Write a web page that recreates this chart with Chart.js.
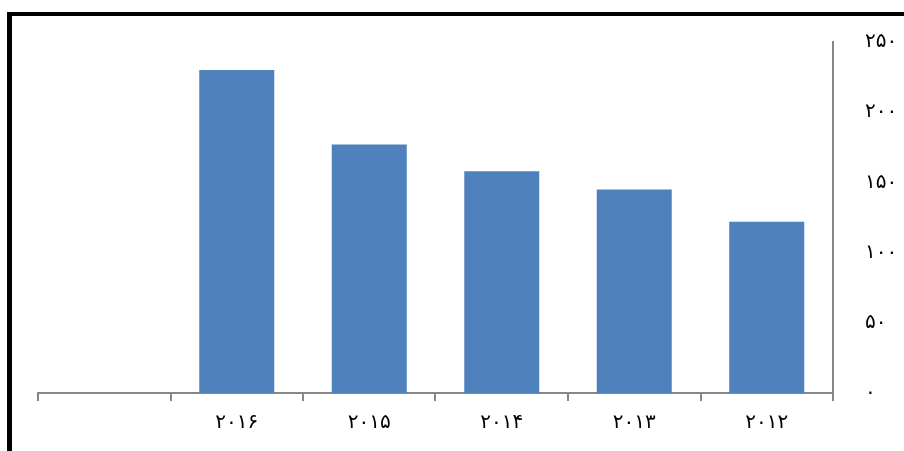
<!DOCTYPE html>
<html>
<head>
<meta charset="utf-8">
<script src="https://cdn.jsdelivr.net/npm/chart.js@4/dist/chart.umd.min.js"></script>
<style>
  html, body { margin:0; padding:0; background:#fff; }
  #wrap { position:relative; width:904px; height:451px; overflow:hidden; }
  #frame { position:absolute; left:7px; top:12px; width:1000px; height:500px;
           border-left:5px solid #000; border-top:4px solid #000; box-sizing:border-box; }
  canvas { position:absolute; left:0; top:0; }
</style>
</head>
<body>
<div id="wrap">
  <div id="frame"></div>
  <canvas id="c" width="904" height="451"></canvas>
</div>
<script>
// ── DATA (years run right to left) ──
const years  = ['۲۰۱۲', '۲۰۱۳', '۲۰۱۴', '۲۰۱۵', '۲۰۱۶', ''];
const values = [122, 145, 158, 177, 230, null];
const yTicks = ['۰', '۵۰', '۱۰۰', '۱۵۰', '۲۰۰', '۲۵۰'];

const axisClr = '#878787';
const font    = { family:'DejaVu Sans', size:20 };

new Chart(document.getElementById('c'), {
  type: 'bar',
  data: {
    labels: years,
    datasets: [{ data: values, backgroundColor:'#4F81BD', borderWidth:0,
                 barPercentage:0.566, categoryPercentage:1 }]
  },
  options: {
    responsive: false,
    animation: false,
    layout: { padding: { left:38, top:42, right:0, bottom:0 } },
    plugins: { legend:{ display:false }, tooltip:{ enabled:false } },
    scales: {
      x: {
        reverse: true,
        grid: { offset:true, drawOnChartArea:false, tickLength:8, color:axisClr, lineWidth:2 },
        border: { display:true, color:axisClr, width:2 },
        ticks: { color:'#000', font, padding:10, maxRotation:0 },
        afterFit: s => { s.height = 58; }
      },
      y: {
        position: 'right',
        min: 0, max: 250,
        grid: { display:false },
        border: { display:true, color:axisClr, width:2 },
        ticks: { stepSize:50, color:'#000', font, padding:24,
                 callback: (v) => yTicks[v / 50] },
        afterFit: s => { s.width = 71; }
      }
    }
  }
});
</script>
</body>
</html>
